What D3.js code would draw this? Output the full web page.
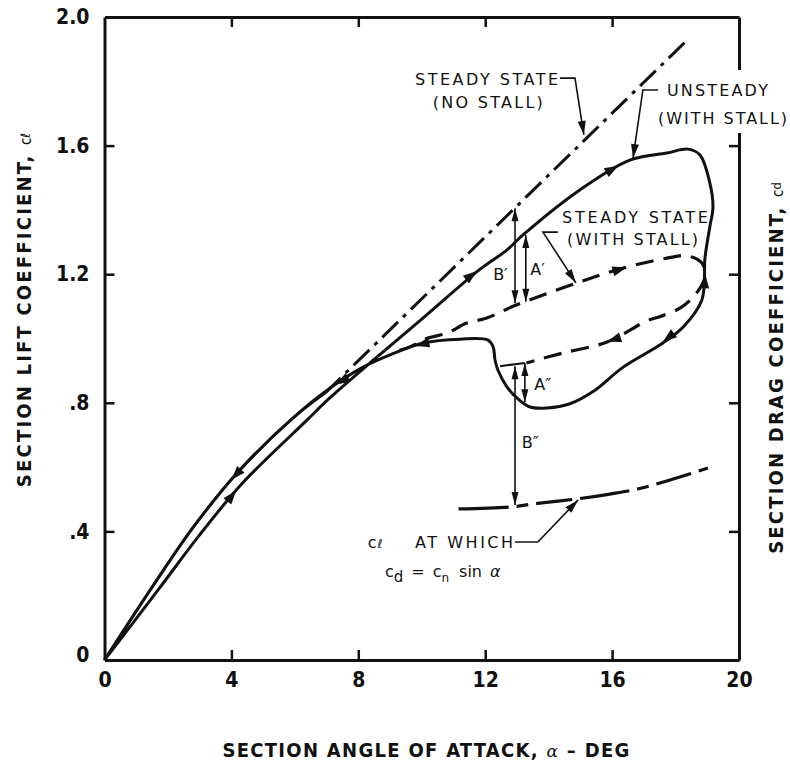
<!DOCTYPE html>
<html><head><meta charset="utf-8">
<script src="https://cdn.jsdelivr.net/npm/d3@7"></script>
<style>
body{margin:0;background:#fff}
.ax text{font-family:"Liberation Sans Narrow","DejaVu Sans Condensed","Arial Narrow",sans-serif;font-weight:bold;font-size:21px;fill:#111}
.ax path,.ax line{stroke:#111}
.ann{font-family:"DejaVu Sans",sans-serif;font-size:16px;fill:#111}
.title{font-family:"DejaVu Sans Condensed",sans-serif;font-weight:bold;font-size:20px;fill:#111}
</style>
</head><body><svg id="c" width="790" height="766"></svg>
<script>
// ---- tick values / labels ----
const xTicks=[0,4,8,12,16,20];
const yTicks=[0,0.4,0.8,1.2,1.6,2.0];
const yTickLabels=["0",".4",".8","1.2","1.6","2.0"];

// ---- unsteady (with stall) hysteresis loop: up path, loop, return path ----
const unsteadyAlpha=[0,1.69,2.95,4.33,6.38,7.1,8.5,10.0,11.83,12.68,13.19,14.98,16.56,17.73,18.39,18.77,19.08,19.18,19.08,18.93,18.83,18.24,17.6,16.35,15.4,14.67,13.95,13.41,13.0,12.69,12.4,12.31,12.25,12.09,11.22,10.04,9.0,8.15,7.2,5.91,4.21,2.85,1.59,0];
const unsteadyCl   =[0,0.218,0.383,0.548,0.746,0.815,0.935,1.06,1.215,1.275,1.322,1.462,1.555,1.577,1.589,1.571,1.484,1.409,1.347,1.253,1.12,1.036,0.986,0.911,0.835,0.797,0.784,0.787,0.815,0.849,0.902,0.933,0.974,0.995,0.998,0.986,0.949,0.911,0.852,0.75,0.585,0.42,0.24,0];

// ---- steady state (no stall) ----
const noStallAlpha=[0,1.59,2.85,4.21,5.91,6.95,18.3];
const noStallCl   =[0,0.24,0.42,0.585,0.75,0.83,1.922];

// ---- steady state (with stall) ----
const stallAlpha=[9.3,9.63,10.16,10.8,11.42,12.05,13.0,14.9,16.35,17.73,18.36,18.83,18.93,18.65,18.15,17.5,17.1,15.84,14.45,13.3];
const stallCl   =[0.963,0.974,1.0,1.017,1.048,1.064,1.105,1.173,1.219,1.25,1.257,1.235,1.19,1.14,1.095,1.068,1.055,0.989,0.955,0.924];

// ---- c_l at which c_d = c_n sin(alpha) ----
const dragAlpha=[11.16,12.78,13.72,14.89,15.93,16.94,19.02];
const dragCl   =[0.47,0.476,0.488,0.501,0.516,0.535,0.597];

// ---- direction arrows on curves: [tailAlpha, tailCl, tipAlpha, tipCl] ----
const curveArrows=[
 [3.8,0.484,4.15,0.527],
 [4.4,0.604,4.0,0.561],
 [7.7,0.88,7.3,0.857],
 [11.3,1.176,11.74,1.21],
 [15.8,1.515,16.2,1.537],
 [18.0,1.02,17.6,0.99],
 [10.3,0.99,9.8,0.977],
 [16.0,1.208,16.45,1.221],
 [18.9,1.15,18.93,1.2],
 [16.3,1.005,15.85,0.99]
];
// ---- dimension arrows ----
const dimAlpha=[12.94,13.28,12.94,13.25];
const dimTop  =[1.405,1.322,0.914,0.924];
const dimBot  =[1.11,1.114,0.482,0.802];
const dimLabels=["B\u2032","A\u2032","B\u2033","A\u2033"];
const dimLabelAlpha=[12.25,13.42,13.15,13.55];
const dimLabelCl=[1.182,1.198,0.659,0.84];

const svg=d3.select("#c");
const x=d3.scaleLinear().domain([0,20]).range([104.5,739]);
const y=d3.scaleLinear().domain([0,2]).range([660,17]);
const ink="#111";

// axes
const gB=svg.append("g").attr("class","ax").attr("transform",`translate(0,${y(0)})`)
 .call(d3.axisBottom(x).tickValues(xTicks).tickSize(-10).tickSizeOuter(0).tickPadding(12).tickFormat(d3.format("d")));
const gL=svg.append("g").attr("class","ax").attr("transform",`translate(${x(0)},0)`)
 .call(d3.axisLeft(y).tickValues(yTicks).tickSize(-10).tickSizeOuter(0).tickPadding(15).tickFormat((d,i)=>yTickLabels[i]));
const gT=svg.append("g").attr("class","ax").attr("transform",`translate(0,${y(2)})`)
 .call(d3.axisTop(x).tickValues([4,8,12,16]).tickSize(-10).tickSizeOuter(0).tickFormat(""));
const gR=svg.append("g").attr("class","ax").attr("transform",`translate(${x(20)},0)`)
 .call(d3.axisRight(y).tickValues([0.4,0.8,1.2,1.6]).tickSize(-10).tickSizeOuter(0).tickFormat(""));
svg.selectAll(".ax path.domain").attr("stroke-width",3);
svg.selectAll(".ax .tick line").attr("stroke-width",2.5);
gL.selectAll(".tick").filter(d=>d===0).select("text").attr("dy","0.05em");
gB.selectAll(".tick").filter(d=>d===0||d===20).select("line").remove();
gL.selectAll(".tick").filter(d=>d===0||d===2).select("line").remove();

// gap in right axis behind label
svg.append("rect").attr("x",x(20)-4).attr("y",70).attr("width",10).attr("height",63).attr("fill","#fff");

const line=(curve)=>d3.line().x(d=>x(d[0])).y(d=>y(d[1])).curve(curve);
const zip=(a,b)=>a.map((v,i)=>[v,b[i]]);

// curves
svg.append("path").attr("d",line(d3.curveLinear)(zip(noStallAlpha.slice(5),noStallCl.slice(5))))
 .attr("fill","none").attr("stroke",ink).attr("stroke-width",3).attr("stroke-dasharray","22,7,4,7");
svg.append("path").attr("d",line(d3.curveCatmullRom.alpha(0.5))(zip(noStallAlpha.slice(0,6),noStallCl.slice(0,6))))
 .attr("fill","none").attr("stroke",ink).attr("stroke-width",2.5);
svg.append("path").attr("d",line(d3.curveCatmullRom.alpha(0.5))(zip(unsteadyAlpha,unsteadyCl)))
 .attr("fill","none").attr("stroke",ink).attr("stroke-width",3);
svg.append("path").attr("d",line(d3.curveCatmullRom.alpha(0.5))(zip(stallAlpha,stallCl)))
 .attr("fill","none").attr("stroke",ink).attr("stroke-width",3.2).attr("stroke-dasharray","18,10");
svg.append("path").attr("d",line(d3.curveCatmullRom.alpha(0.5))(zip(dragAlpha,dragCl)))
 .attr("fill","none").attr("stroke",ink).attr("stroke-width",3.2).attr("stroke-dasharray","50,8,12,8,36,8");

function head(tx,ty,ang,len,hw){
  const bx=tx-len*Math.cos(ang), by=ty-len*Math.sin(ang);
  const px=-Math.sin(ang)*hw, py=Math.cos(ang)*hw;
  svg.append("path").attr("d",`M${tx},${ty}L${bx+px},${by+py}L${bx-px},${by-py}Z`).attr("fill",ink);
}
curveArrows.forEach(a=>{
  const tx=x(a[2]),ty=y(a[3]);
  head(tx,ty,Math.atan2(ty-y(a[1]),tx-x(a[0])),14,5);
});

// dimension arrows
dimAlpha.forEach((a,i)=>{
  const xx=x(a),y1=y(dimTop[i]),y2=y(dimBot[i]);
  svg.append("line").attr("x1",xx).attr("x2",xx).attr("y1",y1).attr("y2",y2).attr("stroke",ink).attr("stroke-width",1.6);
  head(xx,y1,-Math.PI/2,13,3.5);
  head(xx,y2,Math.PI/2,13,3.5);
  svg.append("text").attr("class","ann").attr("x",x(dimLabelAlpha[i])).attr("y",y(dimLabelCl[i])).text(dimLabels[i]);
});
// short bar at top of B''/A''
svg.append("line").attr("x1",x(12.47)).attr("x2",x(13.25)).attr("y1",y(0.914)).attr("y2",y(0.924)).attr("stroke",ink).attr("stroke-width",2);

// annotations
function txt(a,c,s,len){
  const t=svg.append("text").attr("class","ann").attr("x",x(a)).attr("y",y(c)).text(s);
  if(len) t.attr("textLength",len).attr("lengthAdjust","spacing");
  return t;
}
function leader(pts){
  svg.append("path").attr("d",d3.line().x(d=>x(d[0])).y(d=>y(d[1]))(pts)).attr("fill","none").attr("stroke",ink).attr("stroke-width",1.6);
  const p=pts[pts.length-1],q=pts[pts.length-2];
  const tx=x(p[0]),ty=y(p[1]);
  head(tx,ty,Math.atan2(ty-y(q[1]),tx-x(q[0])),14,4);
}
txt(9.79,1.788,"STEADY STATE",143);
txt(10.35,1.717,"(NO STALL)",110);
leader([[14.36,1.81],[14.83,1.81],[15.11,1.633]]);
txt(17.73,1.754,"UNSTEADY",101);
txt(17.45,1.667,"(WITH STALL)",129);
leader([[17.45,1.773],[16.97,1.773],[16.66,1.561]]);
txt(14.42,1.359,"STEADY STATE",146);
txt(14.58,1.291,"(WITH STALL)",131);
leader([[14.29,1.331],[13.82,1.331],[14.86,1.173]]);
leader([[12.94,0.367],[13.66,0.367],[14.93,0.498]]);

const t7=svg.append("text").attr("class","ann").attr("x",x(8.3)).attr("y",y(0.348));
t7.append("tspan").text("c");
t7.append("tspan").attr("font-size","12px").attr("font-style","italic").attr("dx",1).text("\u2113");
txt(9.79,0.348,"AT  WHICH",98);
const t8=svg.append("text").attr("class","ann").attr("x",x(8.84)).attr("y",y(0.258));
t8.append("tspan").text("c");
t8.append("tspan").attr("dy",5).attr("font-size","15px").text("d");
t8.append("tspan").attr("dy",-5).attr("dx",8).text("=");
t8.append("tspan").attr("dx",8).text("c");
t8.append("tspan").attr("dy",5).attr("font-size","12px").text("n");
t8.append("tspan").attr("dy",-5).attr("dx",10).text("sin");
t8.append("tspan").attr("dx",8).attr("font-style","italic").text("\u03b1");

// axis titles
const xt=svg.append("text").attr("class","title").attr("x",x(10.15)).attr("y",757).attr("text-anchor","middle").attr("letter-spacing","1.3");
xt.append("tspan").text("SECTION ANGLE OF ATTACK,  ");
xt.append("tspan").attr("font-weight","normal").attr("font-style","italic").attr("font-family","DejaVu Serif").attr("font-size","17px").text("\u03b1");
xt.append("tspan").text("  \u2013  DEG");

const yt=svg.append("text").attr("class","title").attr("transform","translate(31,310) rotate(-90)").attr("text-anchor","middle");
yt.append("tspan").attr("letter-spacing","2.2").text("SECTION  LIFT  COEFFICIENT,  ");
yt.append("tspan").attr("font-weight","normal").attr("font-size","15px").text("c");
yt.append("tspan").attr("font-weight","normal").attr("font-style","italic").attr("font-size","13px").attr("dy",-1).text("\u2113");

const rt=svg.append("text").attr("class","title").attr("transform","translate(783,368) rotate(-90)").attr("text-anchor","middle");
rt.append("tspan").attr("letter-spacing","2.2").text("SECTION   DRAG  COEFFICIENT,  ");
rt.append("tspan").attr("font-weight","normal").attr("font-size","15px").text("c");
rt.append("tspan").attr("font-weight","normal").attr("font-size","13px").attr("dy",-2).text("d");
</script></body></html>
